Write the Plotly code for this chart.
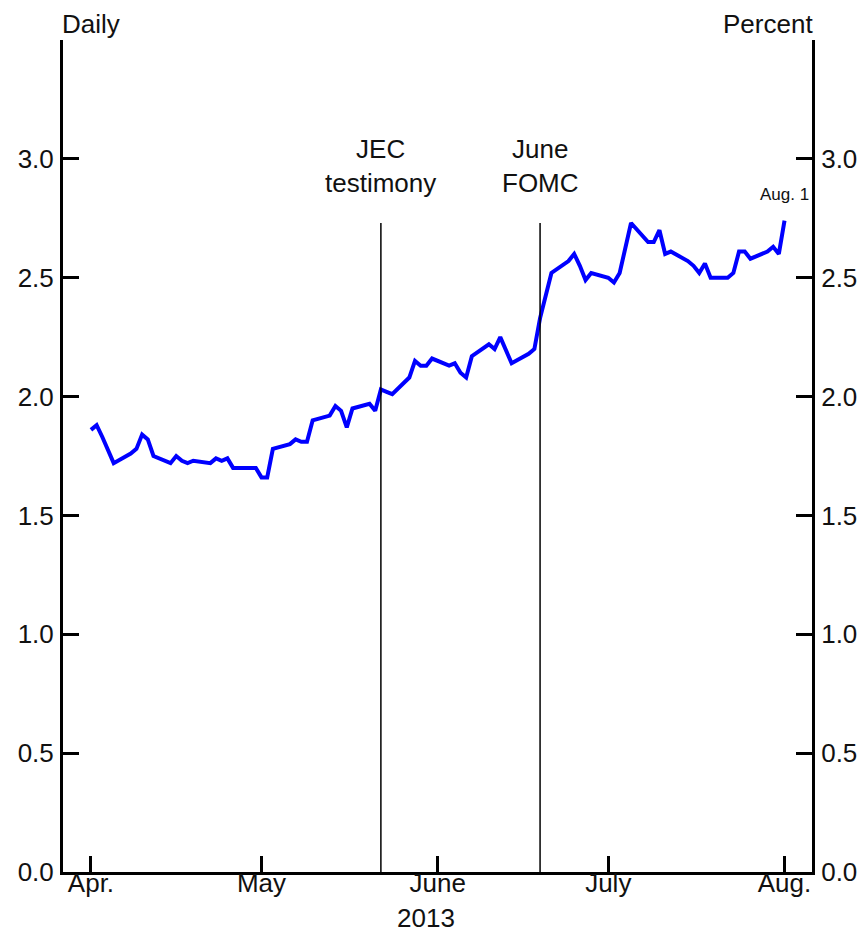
import plotly.graph_objects as go

dates = ["2013-04-01","2013-04-02","2013-04-03","2013-04-04","2013-04-05",
         "2013-04-08","2013-04-09","2013-04-10","2013-04-11","2013-04-12",
         "2013-04-15","2013-04-16","2013-04-17","2013-04-18","2013-04-19",
         "2013-04-22","2013-04-23","2013-04-24","2013-04-25","2013-04-26",
         "2013-04-29","2013-04-30","2013-05-01","2013-05-02","2013-05-03",
         "2013-05-06","2013-05-07","2013-05-08","2013-05-09","2013-05-10",
         "2013-05-13","2013-05-14","2013-05-15","2013-05-16","2013-05-17",
         "2013-05-20","2013-05-21","2013-05-22","2013-05-23","2013-05-24",
         "2013-05-27","2013-05-28","2013-05-29","2013-05-30","2013-05-31",
         "2013-06-03","2013-06-04","2013-06-05","2013-06-06","2013-06-07",
         "2013-06-10","2013-06-11","2013-06-12","2013-06-13","2013-06-14",
         "2013-06-17","2013-06-18","2013-06-19","2013-06-20","2013-06-21",
         "2013-06-24","2013-06-25","2013-06-26","2013-06-27","2013-06-28",
         "2013-07-01","2013-07-02","2013-07-03","2013-07-05",
         "2013-07-08","2013-07-09","2013-07-10","2013-07-11","2013-07-12",
         "2013-07-15","2013-07-16","2013-07-17","2013-07-18","2013-07-19",
         "2013-07-22","2013-07-23","2013-07-24","2013-07-25","2013-07-26",
         "2013-07-29","2013-07-30","2013-07-31","2013-08-01"]
yields = [1.86, 1.88, 1.83, 1.77, 1.72,
          1.76, 1.78, 1.84, 1.82, 1.75,
          1.72, 1.75, 1.73, 1.72, 1.73,
          1.72, 1.74, 1.73, 1.74, 1.70,
          1.70, 1.70, 1.66, 1.66, 1.78,
          1.80, 1.82, 1.81, 1.81, 1.90,
          1.92, 1.96, 1.94, 1.87, 1.95,
          1.97, 1.94, 2.03, 2.02, 2.01,
          2.08, 2.15, 2.13, 2.13, 2.16,
          2.13, 2.14, 2.10, 2.08, 2.17,
          2.22, 2.20, 2.25, 2.19, 2.14,
          2.18, 2.20, 2.33, 2.42, 2.52,
          2.57, 2.60, 2.55, 2.49, 2.52,
          2.50, 2.48, 2.52, 2.73,
          2.65, 2.65, 2.70, 2.60, 2.61,
          2.57, 2.55, 2.52, 2.56, 2.50,
          2.50, 2.52, 2.61, 2.61, 2.58,
          2.61, 2.63, 2.60, 2.74]

month_ticks = ["2013-04-01", "2013-05-01", "2013-06-01", "2013-07-01", "2013-08-01"]
month_labels = ["Apr.", "May", "June", "July", "Aug."]
y_ticks = [0.0, 0.5, 1.0, 1.5, 2.0, 2.5, 3.0, 3.5]
y_labels = ["0.0", "0.5", "1.0", "1.5", "2.0", "2.5", "3.0", ""]

events = [("2013-05-22", "JEC<br>testimony"), ("2013-06-19", "June<br>FOMC")]
event_top = 2.73

FONT = "Liberation Sans, Arial, sans-serif"
TXT = "#111111"

fig = go.Figure()
fig.add_trace(go.Scatter(x=dates, y=yields, mode="lines",
                         line=dict(color="#0000ff", width=4),
                         showlegend=False, hoverinfo="skip"))
# dummy trace for right axis
fig.add_trace(go.Scatter(x=[dates[0]], y=[None], yaxis="y2", showlegend=False,
                         hoverinfo="skip"))

for d, label in events:
    fig.add_shape(type="line", xref="x", yref="y", x0=d, x1=d, y0=0, y1=event_top,
                  line=dict(color="black", width=1.5))
    fig.add_annotation(x=d, y=2.972, xref="x", yref="y", text=label,
                       showarrow=False, xanchor="center", yanchor="middle",
                       font=dict(family=FONT, size=26, color=TXT))

fig.add_annotation(x=dates[-1], y=2.85, xref="x", yref="y", text="Aug. 1",
                   showarrow=False, xanchor="center", yanchor="middle",
                   font=dict(family=FONT, size=17, color=TXT))
fig.add_annotation(x=0, y=1.019, xref="paper", yref="paper", text="Daily",
                   showarrow=False, xanchor="left", yanchor="middle", xshift=-3,
                   font=dict(family=FONT, size=26, color=TXT))
fig.add_annotation(x=1, y=1.019, xref="paper", yref="paper", text="Percent",
                   showarrow=False, xanchor="right", yanchor="middle", xshift=3,
                   font=dict(family=FONT, size=26, color=TXT))
fig.add_annotation(x="2013-05-30", y=-0.0553, xref="x", yref="paper", text="2013",
                   showarrow=False, xanchor="center", yanchor="middle",
                   font=dict(family=FONT, size=26, color=TXT))

yax = dict(range=[0, 3.5], tickvals=y_ticks, ticktext=y_labels,
           ticks="inside", ticklen=16, tickwidth=3, tickcolor="black",
           showline=True, linewidth=3, linecolor="black", automargin=False,
           showgrid=False, zeroline=False, ticklabelstandoff=1,
           tickfont=dict(family=FONT, size=26, color=TXT))

fig.update_layout(
    width=863, height=933,
    margin=dict(l=63, r=51, t=40, b=61),
    paper_bgcolor="white", plot_bgcolor="white",
    xaxis=dict(type="date", range=["2013-03-27 02:00", "2013-08-05 20:00"],
               tickvals=month_ticks, ticktext=month_labels,
               ticks="inside", ticklen=16, tickwidth=3, tickcolor="black",
               showline=True, linewidth=3, linecolor="black", automargin=False,
               showgrid=False, zeroline=False, ticklabelstandoff=-14,
               tickfont=dict(family=FONT, size=26, color=TXT)),
    yaxis=yax,
    yaxis2=dict(yax, overlaying="y", side="right", ticklabelstandoff=1),
)

fig.write_html("out.html",
               config={"displayModeBar": False},
               post_script="document.body.style.margin='0';"
                           "document.body.style.overflow='hidden';")
